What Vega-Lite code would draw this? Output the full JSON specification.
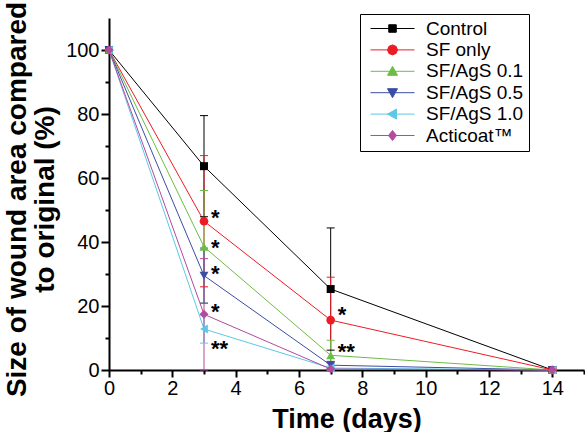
{
  "$schema": "https://vega.github.io/schema/vega-lite/v6.json",
  "width": 475,
  "height": 352,
  "autosize": {"type": "none"},
  "padding": {"left": 109, "top": 18, "right": 1, "bottom": 62},
  "background": "white",
  "config": {
    "font": "Liberation Sans",
    "view": {"stroke": null},
    "axis": {"labelColor": "black", "titleColor": "black", "domainColor": "black", "tickColor": "black"}
  },
  "datasets": {
    "obs": [
      {"series": "Control", "t": 0, "v": 100},
      {"series": "Control", "t": 3, "v": 63.7, "lo": 47.9, "hi": 79.5},
      {"series": "Control", "t": 7, "v": 25.3, "lo": 6.2, "hi": 44.4},
      {"series": "Control", "t": 14, "v": 0},
      {"series": "SF only", "t": 0, "v": 100},
      {"series": "SF only", "t": 3, "v": 46.5, "lo": 26, "hi": 67},
      {"series": "SF only", "t": 7, "v": 15.6, "lo": 2.2, "hi": 29},
      {"series": "SF only", "t": 14, "v": 0},
      {"series": "SF/AgS 0.1", "t": 0, "v": 100},
      {"series": "SF/AgS 0.1", "t": 3, "v": 38.5, "lo": 20.9, "hi": 56.1},
      {"series": "SF/AgS 0.1", "t": 7, "v": 4.6, "lo": 0, "hi": 9.3},
      {"series": "SF/AgS 0.1", "t": 14, "v": 0},
      {"series": "SF/AgS 0.5", "t": 0, "v": 100},
      {"series": "SF/AgS 0.5", "t": 3, "v": 29.5, "lo": 20.9, "hi": 38.1},
      {"series": "SF/AgS 0.5", "t": 7, "v": 1.5, "lo": 0.3, "hi": 2.7},
      {"series": "SF/AgS 0.5", "t": 14, "v": 0},
      {"series": "SF/AgS 1.0", "t": 0, "v": 100},
      {"series": "SF/AgS 1.0", "t": 3, "v": 12.8, "lo": 8.4, "hi": 17.2},
      {"series": "SF/AgS 1.0", "t": 7, "v": 0.6, "lo": 0, "hi": 1.2},
      {"series": "SF/AgS 1.0", "t": 14, "v": 0},
      {"series": "Acticoat™", "t": 0, "v": 100},
      {"series": "Acticoat™", "t": 3, "v": 17.4, "lo": 0, "hi": 34.8},
      {"series": "Acticoat™", "t": 7, "v": 0.3, "lo": 0, "hi": 0.6},
      {"series": "Acticoat™", "t": 14, "v": 0}
    ],
    "stars": [
      {"t": 3, "v": 49.4, "s": "*"},
      {"t": 3, "v": 40, "s": "*"},
      {"t": 3, "v": 31.8, "s": "*"},
      {"t": 3, "v": 20, "s": "*"},
      {"t": 3, "v": 8.5, "s": "**"},
      {"t": 7, "v": 19, "s": "*"},
      {"t": 7, "v": 7.6, "s": "**"}
    ]
  },
  "data": {"name": "obs"},
  "encoding": {
    "x": {
      "field": "t", "type": "quantitative",
      "scale": {"domain": [0, 15], "nice": false, "zero": false},
      "axis": {
        "title": "Time (days)",
        "titleFontSize": 27, "titleFontWeight": "bold", "titlePadding": 8,
        "values": [0,1,2,3,4,5,6,7,8,9,10,11,12,13,14,15],
        "labelExpr": "datum.value % 2 === 0 ? datum.label : ''",
        "labelFontSize": 20, "labelPadding": 1,
        "tickSize": {"condition": {"test": "datum.value % 2 === 0", "value": 7}, "value": 4},
        "tickWidth": 2, "domainWidth": 2, "grid": false, "labelFlush": false, "labelOverlap": false
      }
    },
    "y": {
      "field": "v", "type": "quantitative",
      "scale": {"domain": [0, 110], "nice": false},
      "axis": {
        "title": ["Size of wound area compared", "to original (%)"],
        "titleFontSize": 28, "titleFontWeight": "bold", "titleLineHeight": 28,
        "titleBaseline": "alphabetic", "titleX": -84, "titleY": 181, "titleAngle": 270,
        "values": [0,10,20,30,40,50,60,70,80,90,100],
        "labelExpr": "datum.value % 20 === 0 ? datum.label : ''",
        "labelFontSize": 20, "labelPadding": 2,
        "tickSize": {"condition": {"test": "datum.value % 20 === 0", "value": 8}, "value": 4},
        "tickWidth": 2, "domainWidth": 2, "grid": false, "labelOverlap": false
      }
    }
  },
  "layer": [
    {
      "mark": {"type": "line", "strokeWidth": 1},
      "encoding": {
        "color": {"field": "series", "type": "nominal", "sort": null,
          "scale": {"domain": ["Acticoat™","SF/AgS 1.0","SF/AgS 0.5","SF/AgS 0.1","SF only","Control"],
                    "range": ["#b24a9e","#5cc8e6","#3b4ea3","#6cbd45","#ed1c24","#000000"]},
          "legend": null}
      }
    },
    {
      "transform": [{"filter": "isValid(datum.hi)"}],
      "mark": {"type": "rule", "strokeWidth": 1},
      "encoding": {
        "y": {"field": "lo", "type": "quantitative"},
        "y2": {"field": "hi"},
        "color": {"field": "series", "type": "nominal", "legend": null}
      }
    },
    {
      "transform": [{"filter": "isValid(datum.hi)"}],
      "mark": {"type": "tick", "orient": "horizontal", "size": 8, "thickness": 1, "opacity": 1},
      "encoding": {
        "y": {"field": "hi", "type": "quantitative"},
        "color": {"field": "series", "type": "nominal", "legend": null}
      }
    },
    {
      "transform": [{"filter": "isValid(datum.hi)"}],
      "mark": {"type": "tick", "orient": "horizontal", "size": 8, "thickness": 1, "opacity": 1},
      "encoding": {
        "y": {"field": "lo", "type": "quantitative"},
        "color": {"field": "series", "type": "nominal", "legend": null}
      }
    },
    {
      "transform": [{"filter": "datum.series === 'Control'"}],
      "mark": {"type": "point", "filled": true, "opacity": 1, "size": 64, "shape": "square"},
      "encoding": {"color": {"field": "series", "type": "nominal", "legend": null}}
    },
    {
      "transform": [{"filter": "datum.series === 'SF only'"}],
      "mark": {"type": "point", "filled": true, "opacity": 1, "size": 75, "shape": "circle"},
      "encoding": {"color": {"field": "series", "type": "nominal", "legend": null}}
    },
    {
      "transform": [{"filter": "datum.series === 'SF/AgS 0.1'"}],
      "mark": {"type": "point", "filled": true, "opacity": 1, "size": 80, "shape": "triangle-up"},
      "encoding": {"color": {"field": "series", "type": "nominal", "legend": null}}
    },
    {
      "transform": [{"filter": "datum.series === 'SF/AgS 0.5'"}],
      "mark": {"type": "point", "filled": true, "opacity": 1, "size": 80, "shape": "triangle-down"},
      "encoding": {"color": {"field": "series", "type": "nominal", "legend": null}}
    },
    {
      "transform": [{"filter": "datum.series === 'SF/AgS 1.0'"}],
      "mark": {"type": "point", "filled": true, "opacity": 1, "size": 80, "shape": "triangle-left"},
      "encoding": {"color": {"field": "series", "type": "nominal", "legend": null}}
    },
    {
      "transform": [{"filter": "datum.series === 'Acticoat™'"}],
      "mark": {"type": "point", "filled": true, "opacity": 1, "size": 80, "shape": "diamond"},
      "encoding": {"color": {"field": "series", "type": "nominal", "legend": null}}
    },
    {
      "data": {"name": "stars"},
      "mark": {"type": "text", "fontSize": 22, "fontWeight": "bold", "align": "left", "baseline": "alphabetic", "dx": 7, "dy": 13, "color": "black"},
      "encoding": {
        "text": {"field": "s", "type": "nominal"}
      }
    },
    {
      "mark": {"type": "point", "filled": true, "opacity": 0, "size": 100, "strokeWidth": 1},
      "encoding": {
        "fill": {"field": "series", "type": "nominal", "sort": null,
          "scale": {"domain": ["Control","SF only","SF/AgS 0.1","SF/AgS 0.5","SF/AgS 1.0","Acticoat™"],
                    "range": ["#000000","#ed1c24","#6cbd45","#3b4ea3","#5cc8e6","#b24a9e"]},
          "legend": {
            "title": null, "orient": "none", "legendX": 251, "legendY": -4,
            "strokeColor": "black", "fillColor": "white", "padding": 5,
            "labelFontSize": 19, "labelColor": "black", "labelOffset": 24, "symbolOffset": 18,
            "labelExpr": "datum.label + '   '",
            "rowPadding": 1.4, "symbolSize": 100, "symbolStrokeWidth": 1, "symbolOpacity": 1
          }},
        "stroke": {"field": "series", "type": "nominal", "sort": null,
          "scale": {"domain": ["Control","SF only","SF/AgS 0.1","SF/AgS 0.5","SF/AgS 1.0","Acticoat™"],
                    "range": ["#000000","#ed1c24","#6cbd45","#3b4ea3","#5cc8e6","#b24a9e"]},
          "legend": {
            "title": null, "orient": "none", "legendX": 251, "legendY": -4,
            "strokeColor": "black", "fillColor": "white", "padding": 5,
            "labelFontSize": 19, "labelColor": "black", "labelOffset": 24, "symbolOffset": 18,
            "labelExpr": "datum.label + '   '",
            "rowPadding": 1.4, "symbolSize": 100, "symbolStrokeWidth": 1, "symbolOpacity": 1
          }},
        "shape": {"field": "series", "type": "nominal", "sort": null,
          "scale": {"domain": ["Control","SF only","SF/AgS 0.1","SF/AgS 0.5","SF/AgS 1.0","Acticoat™"],
                    "range": [
                      "M-4.4,0H4.4M-0.75,-0.75H0.75V0.75H-0.75Z",
                      "M-4.4,0H4.4M1,0L0.71,0.71L0,1L-0.71,0.71L-1,0L-0.71,-0.71L0,-1L0.71,-0.71Z",
                      "M-4.4,0H4.4M0,-1L1,0.8H-1Z",
                      "M-4.4,0H4.4M0,1L1,-0.8H-1Z",
                      "M-4.4,0H4.4M-1,0L0.8,-1V1Z",
                      "M-4.4,0H4.4M0,-1L0.8,0L0,1L-0.8,0Z"
                    ]},
          "legend": {
            "title": null, "orient": "none", "legendX": 251, "legendY": -4,
            "strokeColor": "black", "fillColor": "white", "padding": 5,
            "labelFontSize": 19, "labelColor": "black", "labelOffset": 24, "symbolOffset": 18,
            "labelExpr": "datum.label + '   '",
            "rowPadding": 1.4, "symbolSize": 100, "symbolStrokeWidth": 1, "symbolOpacity": 1
          }}
      }
    }
  ]
}
